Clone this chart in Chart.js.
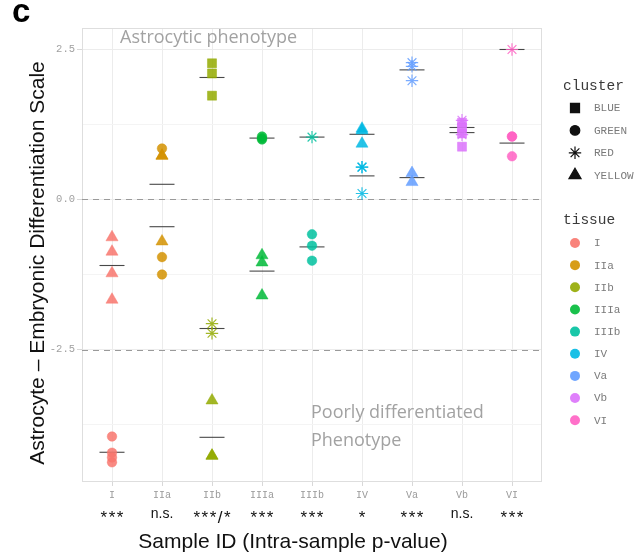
<!DOCTYPE html>
<html>
<head>
<meta charset="utf-8">
<script src="https://cdn.jsdelivr.net/npm/chart.js@4.4.0/dist/chart.umd.min.js"></script>
<style>
  html, body { margin: 0; padding: 0; background: #fff; }
  #wrap { position: relative; width: 642px; height: 558px; }
</style>
</head>
<body>
<div id="wrap"><canvas id="chart" width="642" height="558"></canvas></div>
<script>
const tissues = ["I", "IIa", "IIb", "IIIa", "IIIb", "IV", "Va", "Vb", "VI"];
const tissueColors = ["#F8766D", "#D39200", "#93AA00", "#00BA38", "#00C19F", "#00B9E3", "#619CFF", "#DB72FB", "#FF61C3"];
const significance = ["***", "n.s.", "***/*", "***", "***", "*", "***", "n.s.", "***"];

const clusters = ["BLUE", "GREEN", "RED", "YELLOW"];
const clusterShapes = ["rect", "circle", "star", "triangle"];

// one pair of arrays per cluster: sample id and score of each cell group
const blueTissue = ["IIb", "IIb", "IIb", "Vb", "Vb", "Vb", "Vb"];
const blueScore = [2.27, 2.10, 1.73, 1.28, 1.20, 1.10, 0.88];

const greenTissue = ["I", "I", "I", "I", "IIa", "IIa", "IIa", "IIIa", "IIIa", "IIIa", "IIIb", "IIIb", "IIIb", "VI", "VI", "VI"];
const greenScore = [-3.95, -4.22, -4.30, -4.38, 0.85, -0.96, -1.25, 1.05, 1.00, 1.02, -0.58, -0.77, -1.02, 1.05, 1.05, 0.72];

const redTissue = ["IIb", "IIb", "IIIb", "IV", "IV", "IV", "Va", "Va", "Va", "Vb", "Vb", "VI"];
const redScore = [-2.07, -2.23, 1.04, 0.54, 0.54, 0.10, 2.28, 2.22, 1.98, 1.32, 1.08, 2.50];

const yellowTissue = ["I", "I", "I", "I", "IIa", "IIa", "IIa", "IIb", "IIb", "IIb", "IIIa", "IIIa", "IIIa", "IV", "IV", "IV", "Va", "Va"];
const yellowScore = [-0.63, -0.87, -1.23, -1.67, 0.73, 0.73, -0.70, -3.35, -4.27, -4.27, -0.93, -1.05, -1.60, 1.18, 1.15, 0.93, 0.44, 0.29];

const yMajorTicks = [-2.5, 0, 2.5];
const yMinorTicks = [-3.75, -1.25, 1.25];
const refLines = [0, -2.5];

const clusterTissue = [blueTissue, greenTissue, redTissue, yellowTissue];
const clusterScore = [blueScore, greenScore, redScore, yellowScore];
const shapeRadius = { rect: 6.4, circle: 4.8, star: 6.2, triangle: 7 };

function alpha(hex, a) {
  const n = parseInt(hex.slice(1), 16);
  return `rgba(${(n >> 16) & 255},${(n >> 8) & 255},${n & 255},${a})`;
}

function pontos(tis, sc) {
  return tis.map((t, i) => ({ x: tissues.indexOf(t) + 1, y: sc[i] }));
}

// mean of each sample/cluster group, drawn as a short bar
function medias() {
  const out = [];
  clusterTissue.forEach((tis, c) => {
    tissues.forEach((t, k) => {
      const vals = clusterScore[c].filter((v, i) => tis[i] === t);
      if (vals.length) {
        out.push({ x: k + 1, y: vals.reduce((a, b) => a + b, 0) / vals.length });
      }
    });
  });
  return out;
}

const datasets = clusters.map((nome, c) => {
  const tis = clusterTissue[c];
  const cores = tis.map(t => alpha(tissueColors[tissues.indexOf(t)], 0.85));
  const forma = clusterShapes[c];
  return {
    label: nome,
    data: pontos(tis, clusterScore[c]),
    pointStyle: forma,
    pointRadius: shapeRadius[forma],
    pointBackgroundColor: cores,
    pointBorderColor: cores,
    pointBorderWidth: forma === "star" ? 1.2 : 0.5
  };
});

datasets.push({
  label: "mean",
  data: medias(),
  pointStyle: "line",
  pointRadius: 12.5,
  pointBorderColor: "rgba(40,40,40,0.85)",
  pointBorderWidth: 1.1
});

const extras = {
  id: "extras",
  beforeDatasetsDraw(chart) {
    const { ctx, chartArea: a, scales } = chart;
    ctx.save();
    ctx.strokeStyle = "#dedede";
    ctx.lineWidth = 1;
    ctx.strokeRect(a.left + 0.5, a.top + 0.5, a.width - 1, a.height - 1);
    ctx.strokeStyle = "#9a9a9a";
    ctx.setLineDash([6, 5]);
    refLines.forEach(v => {
      const y = Math.round(scales.y.getPixelForValue(v)) + 0.5;
      ctx.beginPath();
      ctx.moveTo(a.left, y);
      ctx.lineTo(a.right, y);
      ctx.stroke();
    });
    ctx.restore();
  },
  afterDraw(chart) {
    const { ctx, scales } = chart;
    ctx.save();

    ctx.fillStyle = "#000";
    ctx.font = "bold 33px 'Liberation Sans', Arial";
    ctx.textBaseline = "alphabetic";
    ctx.textAlign = "left";
    ctx.fillText("c", 12, 22);

    ctx.fillStyle = "#a2a2a2";
    ctx.font = "18px 'Open Sans'";
    ctx.fillText("Astrocytic phenotype", 120, 43);
    ctx.fillText("Poorly differentiated", 311, 418);
    ctx.fillText("Phenotype", 311, 446);

    ctx.fillStyle = "#111";
    ctx.textAlign = "center";
    significance.forEach((s, i) => {
      const x = scales.x.getPixelForValue(i + 1);
      if (s.startsWith("n")) {
        ctx.letterSpacing = "0px";
        ctx.font = "14px 'Liberation Sans', Arial";
        ctx.fillText(s, x, 518);
      } else {
        ctx.letterSpacing = "1.5px";
        ctx.font = "17px 'Liberation Sans', Arial";
        ctx.fillText(s, x + 0.75, 523);
      }
    });
    ctx.letterSpacing = "0px";

    ctx.font = "21px 'Liberation Sans', Arial";
    ctx.fillText("Sample ID (Intra-sample p-value)", 293, 548);

    ctx.save();
    ctx.translate(44, 263);
    ctx.rotate(-Math.PI / 2);
    ctx.font = "21px 'Liberation Sans', Arial";
    ctx.fillText("Astrocyte \u2013 Embryonic Differentiation Scale", 0, 0);
    ctx.restore();

    // legends
    ctx.textAlign = "left";
    ctx.textBaseline = "middle";
    ctx.fillStyle = "#3a3a3a";
    ctx.font = "14.5px 'Liberation Mono', monospace";
    ctx.fillText("cluster", 563, 86);
    ctx.fillText("tissue", 563, 220);

    ctx.font = "11px 'Liberation Mono', monospace";
    clusters.forEach((nome, c) => {
      const y = 108 + c * 22.4;
      const forma = clusterShapes[c];
      ctx.fillStyle = "#111";
      ctx.strokeStyle = "#111";
      ctx.lineWidth = 1.2;
      Chart.helpers.drawPoint(ctx, { pointStyle: forma, radius: shapeRadius[forma], borderWidth: 1.2 }, 575, y);
      ctx.fillStyle = "#7a7a7a";
      ctx.fillText(nome, 594, y + 0.5);
    });

    tissues.forEach((t, k) => {
      const y = 243 + k * 22.15;
      ctx.fillStyle = alpha(tissueColors[k], 0.9);
      ctx.beginPath();
      ctx.arc(575, y, 5, 0, Math.PI * 2);
      ctx.fill();
      ctx.fillStyle = "#7a7a7a";
      ctx.fillText(t, 594, y + 0.5);
    });

    ctx.restore();
  }
};

const ctx = document.getElementById("chart").getContext("2d");
const grafico = new Chart(ctx, {
  type: "scatter",
  data: { datasets: datasets },
  plugins: [extras],
  options: {
    responsive: false,
    animation: false,
    events: [],
    layout: { padding: { left: 0, top: 28, right: 100, bottom: 0 } },
    plugins: { legend: { display: false }, tooltip: { enabled: false } },
    scales: {
      x: {
        type: "linear",
        min: 0.4,
        max: 9.6,
        afterBuildTicks: scale => { scale.ticks = tissues.map((t, i) => ({ value: i + 1 })); },
        afterFit: scale => { scale.height = 76; },
        ticks: {
          callback: v => tissues[v - 1],
          color: "#9a9a9a",
          font: { family: "'Liberation Mono', monospace", size: 10 },
          padding: 3,
          maxRotation: 0,
          autoSkip: false
        },
        grid: { color: "#ececec", tickColor: "#d8d8d8", tickLength: 4 },
        border: { display: false }
      },
      y: {
        min: -4.708,
        max: 2.858,
        afterBuildTicks: scale => {
          scale.ticks = yMinorTicks.concat(yMajorTicks).sort((a, b) => a - b).map(v => ({ value: v }));
        },
        afterFit: scale => { scale.width = 82; },
        ticks: {
          callback: v => yMajorTicks.includes(v) ? v.toFixed(1) : "",
          color: "#a0a0a0",
          font: { family: "'Liberation Mono', monospace", size: 10.5 },
          padding: 2
        },
        grid: {
          color: c => yMajorTicks.includes(c.tick.value) ? "#ececec" : "#f4f4f4",
          tickColor: c => yMajorTicks.includes(c.tick.value) ? "#d8d8d8" : "rgba(0,0,0,0)",
          tickLength: 5
        },
        border: { display: false }
      }
    }
  }
});
</script>
</body>
</html>
